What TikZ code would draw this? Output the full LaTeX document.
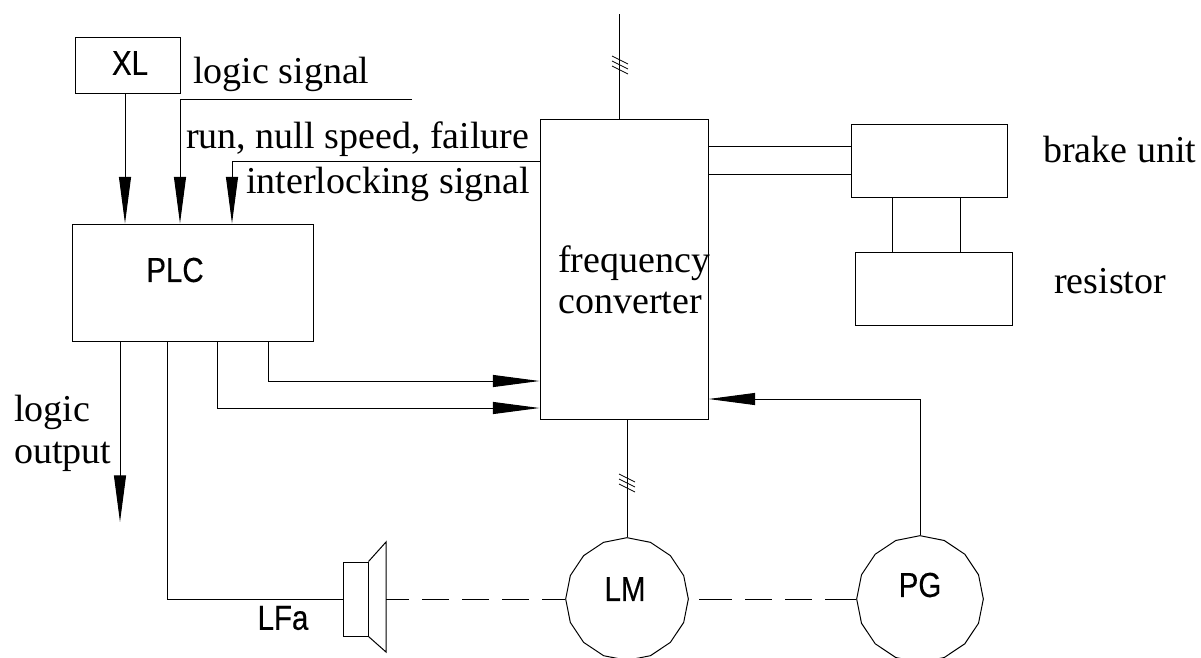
\documentclass[tikz,border=0pt]{standalone}
\usepackage{fontspec}
\usepackage{tikz}
\usetikzlibrary{arrows.meta,shapes.geometric}
\setmainfont{Liberation Serif}
\newfontfamily\cadfont[FakeStretch=0.85,FakeBold=0.4]{Liberation Sans}
\tikzset{
  blockbox/.style={draw, line width=0.75pt, inner sep=0pt},
  motorcircle/.style={draw, line width=0.75pt, regular polygon, regular polygon sides=16,
    shape border rotate=11.25, inner sep=0pt},
  wire/.style={line width=0.75pt},
  arr/.style={wire, -{Triangle[length=35pt,width=9pt]}},
  tickmark/.style={line width=0.6pt},
  shaftline/.style={wire, dash pattern=on 20pt off 10pt, dash phase=3pt},
  cadlabel/.style={font=\cadfont\fontsize{26}{26}\selectfont},
  textlabel/.style={anchor=base west, inner sep=0pt, font=\fontsize{28.5}{34}\selectfont}
}
\begin{document}
\begin{tikzpicture}[x=0.75pt,y=-0.75pt]
  \useasboundingbox (0,0) rectangle (1201,657);
  \clip (0,0) rectangle (1201,657);
  % blocks
  \node[blockbox, minimum width=78.75pt, minimum height=42pt] (xl) at (127.5,65) {};
  \node[blockbox, minimum width=180.75pt, minimum height=87.75pt] (plc) at (192.5,282.5) {};
  \node[blockbox, minimum width=126pt, minimum height=225pt] (conv) at (624,269) {};
  \node[blockbox, minimum width=117pt, minimum height=54.75pt] (brake) at (929,160.5) {};
  \node[blockbox, minimum width=117.75pt, minimum height=54.75pt] (res) at (933.5,288.5) {};
  \node[motorcircle, minimum size=92pt] (lm) at (627,599) {};
  \node[motorcircle, minimum size=95pt] (pg) at (920,599) {};
  \node[blockbox, minimum width=18.75pt, minimum height=55.5pt] (spk) at (355.5,599) {};
  % labels
  \node[cadlabel] (xllab) at (130,63) {XL};
  \node[cadlabel] (plclab) at (175,270) {PLC};
  \node[cadlabel] (lmlab) at (625,589) {LM};
  \node[cadlabel] (pglab) at (920,585) {PG};
  \node[cadlabel] (lfalab) at (283,618) {LFa};
  \node[textlabel] (logiclab) at (193,83) {logic signal};
  \node[textlabel] (runlab) at (186,148) {run, null speed, failure};
  \node[textlabel] (locklab) at (246,193) {interlocking signal};
  \node[textlabel] (freqlab) at (558,272) {frequency};
  \node[textlabel] (convlab) at (558,313) {converter};
  \node[textlabel] (brakelab) at (1043,162) {brake unit};
  \node[textlabel] (reslab) at (1054,293) {resistor};
  \node[textlabel] (outlab) at (14,421) {logic};
  \node[textlabel] (outlabb) at (14,463) {output};
  % free ends and taps
  \coordinate (top) at (619,14);
  \coordinate (sigend) at (412,99);
  \coordinate (outend) at (120,522);
  \coordinate (xltap) at (125,99);
  \coordinate (sigtap) at (180,99);
  \coordinate (locktap) at (232,161);
  \coordinate (runtap) at (268,381);
  \coordinate (spdtap) at (217,408);
  \coordinate (horntap) at (167,599);
  \coordinate (fbtap) at (920,399);
  \coordinate (conea) at (386,542);
  \coordinate (coneb) at (386,652);
  \coordinate (shafta) at (386,599);
  \coordinate (shaftb) at (699,599);
  % signals into the PLC
  \draw[arr] (xltap |- xl.south) -- (xltap |- plc.north);
  \draw[arr] (sigend) -| (sigtap |- plc.north);
  \draw[arr] (conv.west |- locktap) -| (locktap |- plc.north);
  % PLC outputs
  \draw[arr] (runtap |- plc.south) |- (conv.west |- runtap);
  \draw[arr] (spdtap |- plc.south) |- (conv.west |- spdtap);
  \draw[arr] (outend |- plc.south) -- (outend);
  \draw[wire] (horntap |- plc.south) |- (spk.west);
  % power and feedback
  \draw[wire] (top) -- (top |- conv.north);
  \draw[wire] (lm.corner 1 |- conv.south) -- (lm.corner 1);
  \draw[arr] (pg.corner 1) |- (conv.east |- fbtap);
  \foreach \b in {146,174} {
    \draw[wire] (conv.east |- 0,\b) -- (brake.west |- 0,\b);
  }
  \foreach \b in {892,960} {
    \draw[wire] (brake.south -| \b,0) -- (res.north -| \b,0);
  }
  \foreach \y in {60,65,70} {
    \draw[tickmark] (612,\y-4) -- (628,\y+4);
  }
  \foreach \y in {478,483,488} {
    \draw[tickmark] (619,\y-4) -- (635,\y+4);
  }
  % speaker
  \draw[wire] (spk.north east) -- (conea) -- (coneb) -- (spk.south east);
  % shaft
  \draw[shaftline] (shafta) -- (lm.west);
  \draw[wire, dash pattern=on 24.75pt off 10pt on 20pt off 10pt on 20pt off 10pt on 25pt] (shaftb) -- (pg.west);
\end{tikzpicture}
\end{document}
